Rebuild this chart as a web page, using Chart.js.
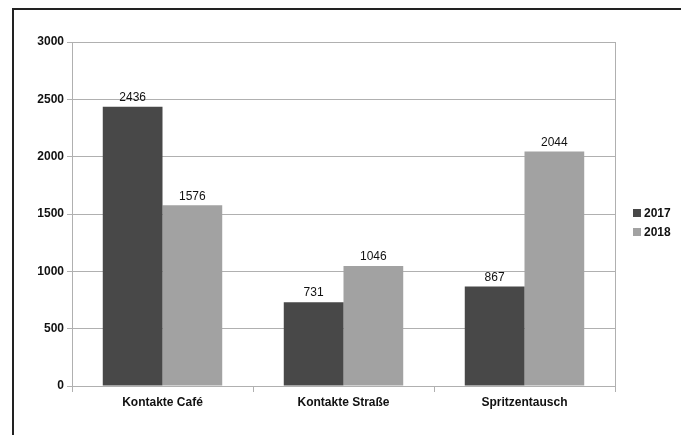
<!DOCTYPE html>
<html>
<head>
<meta charset="utf-8">
<script src="https://cdn.jsdelivr.net/npm/chart.js@4"></script>
<style>
  html, body { margin: 0; padding: 0; background: #fff; }
  #wrap { position: relative; width: 681px; height: 435px; }
  #frame { position: absolute; left: 12px; top: 8px; right: 0; bottom: 0;
           border-left: 2px solid #222; border-top: 2px solid #222; pointer-events: none; }
</style>
</head>
<body>
<div id="wrap">
  <canvas id="chart" width="681" height="435"></canvas>
  <div id="frame"></div>
</div>
<script>
const categories = ['Kontakte Café', 'Kontakte Straße', 'Spritzentausch'];
const values2017 = [2436, 731, 867];
const values2018 = [1576, 1046, 2044];
const yTicks = [0, 500, 1000, 1500, 2000, 2500, 3000];

const fontFamily = '"Liberation Sans", Arial, sans-serif';

// draws the value above each bar
const barLabels = {
  id: 'barLabels',
  afterDatasetsDraw(chart) {
    const ctx = chart.ctx;
    ctx.save();
    ctx.font = '12px ' + fontFamily;
    ctx.fillStyle = '#111';
    ctx.textAlign = 'center';
    ctx.textBaseline = 'bottom';
    chart.data.datasets.forEach((ds, i) => {
      chart.getDatasetMeta(i).data.forEach((bar, j) => {
        ctx.fillText(ds.data[j], bar.x, bar.y - 3);
      });
    });
    ctx.restore();
  }
};

// right edge of plot area
const plotEdge = {
  id: 'plotEdge',
  beforeDatasetsDraw(chart) {
    const { ctx, chartArea } = chart;
    ctx.save();
    ctx.strokeStyle = '#b0b0b0';
    ctx.lineWidth = 1;
    ctx.beginPath();
    ctx.moveTo(chartArea.right + 0.5, chartArea.top);
    ctx.lineTo(chartArea.right + 0.5, chartArea.bottom);
    ctx.stroke();
    ctx.restore();
  }
};

// legend to the right of the plot, from the dataset labels and colours
const sideLegend = {
  id: 'sideLegend',
  afterDraw(chart) {
    const ctx = chart.ctx;
    const x = chart.chartArea.right + 18;
    ctx.save();
    ctx.font = 'bold 12px ' + fontFamily;
    ctx.textBaseline = 'middle';
    chart.data.datasets.forEach((ds, i) => {
      const y = 213 + i * 19;
      ctx.fillStyle = ds.backgroundColor;
      ctx.fillRect(x, y - 4, 8, 8);
      ctx.fillStyle = '#111';
      ctx.fillText(ds.label, x + 11, y + 0.5);
    });
    ctx.restore();
  }
};

const tickFont = { family: fontFamily, size: 12, weight: 'bold' };

new Chart(document.getElementById('chart'), {
  type: 'bar',
  data: {
    labels: categories,
    datasets: [
      { label: '2017', data: values2017, backgroundColor: '#484848' },
      { label: '2018', data: values2018, backgroundColor: '#a2a2a2' }
    ]
  },
  options: {
    responsive: false,
    animation: false,
    devicePixelRatio: 1,
    layout: { padding: { left: 12, top: 42, right: 66, bottom: 19 } },
    datasets: { bar: { categoryPercentage: 0.66, barPercentage: 1.0 } },
    plugins: {
      tooltip: { enabled: false },
      legend: { display: false }
    },
    scales: {
      x: {
        grid: { display: true, drawOnChartArea: false, offset: true, tickLength: 6, color: '#b0b0b0' },
        border: { color: '#b0b0b0' },
        ticks: { color: '#111', font: tickFont, padding: 3 },
        afterFit(scale) { scale.height = 30; }
      },
      y: {
        min: 0, max: 3000,
        afterBuildTicks(scale) { scale.ticks = yTicks.map(v => ({ value: v })); },
        grid: { color: '#b0b0b0', tickLength: 5 },
        border: { color: '#b0b0b0' },
        ticks: { color: '#111', font: tickFont, padding: 3, callback: v => String(v) },
        afterFit(scale) { scale.width = 60; }
      }
    }
  },
  plugins: [barLabels, plotEdge, sideLegend]
});
</script>
</body>
</html>
